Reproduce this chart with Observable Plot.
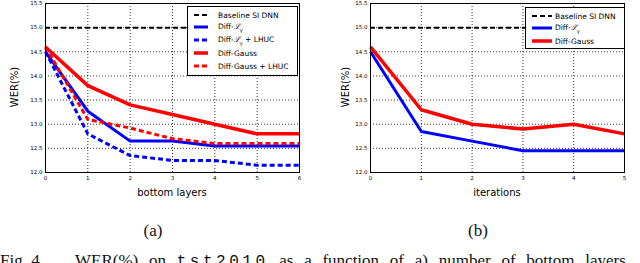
<!DOCTYPE html>
<html><head><meta charset="utf-8">
<script src="https://cdn.jsdelivr.net/npm/d3@7"></script>
<script src="https://cdn.jsdelivr.net/npm/@observablehq/plot@0.6"></script>
<style>
body{margin:0;background:#fff;}
#root{position:relative;width:640px;height:263px;overflow:hidden;font-family:"DejaVu Sans",sans-serif;}
.panel{position:absolute;top:0;}
.legend{position:absolute;background:#fff;border:1px solid #000;font-size:7.5px;color:#000;box-sizing:border-box;}
.legend .row{position:absolute;left:0;height:10px;display:flex;align-items:center;white-space:nowrap;}
.legend svg{display:block;}
.axt{position:absolute;font-size:10px;color:#000;white-space:nowrap;}
.sub{position:absolute;font-family:"Liberation Serif",serif;font-size:17px;color:#111;}
.cap{position:absolute;font-family:"Liberation Serif",serif;font-size:17px;color:#111;white-space:nowrap;line-height:17px;}
.cap tt{font-family:"Liberation Mono",monospace;font-size:16px;letter-spacing:3.5px;}
</style></head>
<body><div id="root"></div>
<script>
// ---- data ----
const layers = [0, 1, 2, 3, 4, 5, 6];
const iterations = [0, 1, 2, 3, 4, 5];
const yTicks = [12.0, 12.5, 13.0, 13.5, 14.0, 14.5, 15.0, 15.5];
const baselineWER = 15.0;
// panel (a): WER vs bottom layers
const aDiffL = [14.5, 13.27, 12.65, 12.65, 12.55, 12.55, 12.55];
const aDiffLLHUC = [14.5, 12.8, 12.35, 12.25, 12.25, 12.15, 12.15];
const aDiffGauss = [14.6, 13.8, 13.4, 13.2, 13.0, 12.8, 12.8];
const aDiffGaussLHUC = [14.6, 13.1, 12.92, 12.7, 12.6, 12.6, 12.6];
// panel (b): WER vs iterations
const bDiffL = [14.5, 12.85, 12.65, 12.45, 12.45, 12.45];
const bDiffGauss = [14.6, 13.3, 13.0, 12.9, 13.0, 12.8];
const seriesNames = ["Baseline SI DNN", "Diff-ℒγ", "Diff-ℒγ + LHUC", "Diff-Gauss", "Diff-Gauss + LHUC"];

const styles = {
  "Baseline SI DNN": {stroke: "#000", strokeWidth: 2, dash: "5,3"},
  "Diff-ℒγ": {stroke: "#0000ff", strokeWidth: 3, dash: null},
  "Diff-ℒγ + LHUC": {stroke: "#0000ff", strokeWidth: 3, dash: "5,3"},
  "Diff-Gauss": {stroke: "#ff0000", strokeWidth: 3.5, dash: null},
  "Diff-Gauss + LHUC": {stroke: "#ff0000", strokeWidth: 3, dash: "5,3"}
};

function rowsOf(xs, values) { return values.map((v, i) => ({x: xs[i], y: v})); }

function panel(xs, series, ml, mr) {
  const marks = [
    Plot.gridX(xs, {stroke: "#000", strokeOpacity: 1, strokeWidth: 0.8, strokeDasharray: "1,2"}),
    Plot.gridY(yTicks, {stroke: "#000", strokeOpacity: 1, strokeWidth: 0.8, strokeDasharray: "1,2"}),
    Plot.ruleY([baselineWER], {stroke: "#000", strokeWidth: 2, strokeDasharray: "5,3"})
  ];
  for (const [name, vals] of series) {
    const s = styles[name];
    marks.push(Plot.line(rowsOf(xs, vals), {x: "x", y: "y", stroke: s.stroke, strokeWidth: s.strokeWidth, strokeDasharray: s.dash ?? undefined, strokeLinejoin: "round", strokeLinecap: "butt"}));
  }
  marks.push(Plot.frame({stroke: "#000", strokeWidth: 1}));
  marks.push(Plot.axisX(xs, {tickSize: 0, tickPadding: 4, label: null, fontSize: 5.5}));
  marks.push(Plot.axisY(yTicks, {tickSize: 0, tickPadding: 3, tickFormat: d3.format(".1f"), label: null, fontSize: 5.5}));
  return Plot.plot({
    width: 320, height: 215,
    marginLeft: ml, marginRight: mr, marginTop: 3, marginBottom: 43,
    style: {fontFamily: "DejaVu Sans", overflow: "visible", background: "transparent"},
    x: {domain: [xs[0], xs[xs.length - 1]]},
    y: {domain: [12, 15.5]},
    marks
  });
}

const root = document.getElementById("root");
function place(el, left, top) { el.classList.add("panel"); el.style.left = left + "px"; el.style.top = top + "px"; root.appendChild(el); }

place(panel(layers, [["Diff-ℒγ", aDiffL], ["Diff-ℒγ + LHUC", aDiffLLHUC], ["Diff-Gauss", aDiffGauss], ["Diff-Gauss + LHUC", aDiffGaussLHUC]], 45, 21), 0, 0);
place(panel(iterations, [["Diff-ℒγ", bDiffL], ["Diff-Gauss", bDiffGauss]], 50, 16), 320, 0);

function labelHTML(name) {
  return name.replace("ℒγ", '<i style="font-family:\'DejaVu Serif\'">ℒ</i><sub style="font-size:5px">γ</sub>');
}
function legend(names, left, top, w, h, rowTops, sampleX, sampleW, textX) {
  const div = document.createElement("div");
  div.className = "legend";
  Object.assign(div.style, {left: left + "px", top: top + "px", width: w + "px", height: h + "px"});
  names.forEach((n, i) => {
    const s = styles[n];
    const row = document.createElement("div");
    row.className = "row";
    row.style.top = rowTops[i] + "px";
    row.style.left = sampleX + "px";
    row.innerHTML = `<svg width="${sampleW}" height="10"><line x1="0" x2="${sampleW}" y1="5" y2="5" stroke="${s.stroke}" stroke-width="${s.strokeWidth}" ${s.dash ? `stroke-dasharray="${s.dash}"` : ""}/></svg><span style="margin-left:${textX - sampleX - sampleW}px">${labelHTML(n)}</span>`;
    div.appendChild(row);
  });
  root.appendChild(div);
}
legend(seriesNames, 187, 6, 111, 70, [3, 15, 28, 41, 54], 6, 14, 30);
legend([seriesNames[0], seriesNames[1], seriesNames[3]], 525, 7, 100, 42, [3, 15, 28], 6, 20, 29);

function text(cls, html, left, top, extra) {
  const d = document.createElement("div");
  d.className = cls; d.innerHTML = html;
  d.style.left = left + "px"; d.style.top = top + "px";
  if (extra) Object.assign(d.style, extra);
  root.appendChild(d);
  return d;
}
text("axt", "bottom layers", 172, 187, {transform: "translateX(-50%)"});
text("axt", "iterations", 497, 187, {transform: "translateX(-50%)"});
text("axt", "WER(%)", 14, 87, {transform: "translate(-50%,-50%) rotate(-90deg)"});
text("axt", "WER(%)", 345, 87, {transform: "translate(-50%,-50%) rotate(-90deg)"});
text("sub", "(a)", 153, 221, {transform: "translateX(-50%)"});
text("sub", "(b)", 478, 221, {transform: "translateX(-50%)"});
text("cap", "Fig. 4.", 0, 252);
text("cap", "WER(%) on <tt>tst2010</tt> as a function of a) number of bottom layers", 75, 252, {wordSpacing: "6.5px"});
</script>
</body></html>
